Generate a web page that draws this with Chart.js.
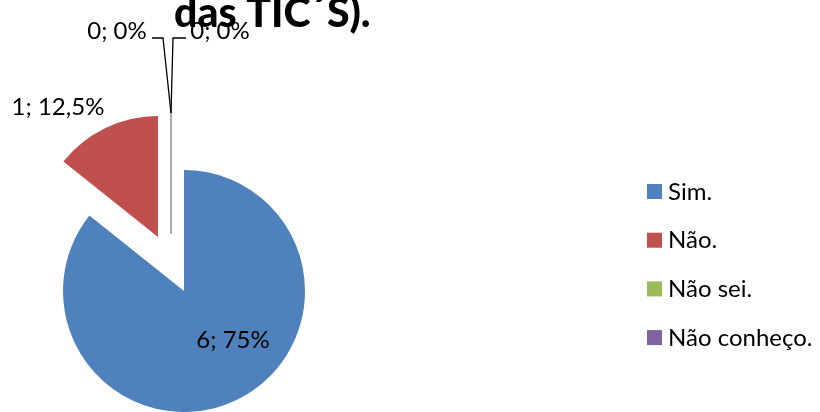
<!DOCTYPE html>
<html>
<head>
<meta charset="utf-8">
<script src="https://cdn.jsdelivr.net/npm/chart.js@4/dist/chart.umd.min.js"></script>
<style>
  html, body { margin: 0; padding: 0; background: #fff; }
  #wrap { position: relative; width: 820px; height: 412px; overflow: hidden; }
  canvas { display: block; }
</style>
</head>
<body>
<div id="wrap"><canvas id="pie" width="820" height="412"></canvas></div>
<script>
// Survey answers
const categories = ['Sim.', 'Não.', 'Não sei.', 'Não conheço.'];
const counts = [6, 1, 0, 0];
const percentLabels = ['75%', '12,5%', '0%', '0%'];
const sliceColors = ['#4F81BD', '#C0504D', '#9BBB59', '#8064A2'];
const titleLine = 'das TIC´S).';

const FONT = 'Lato, "Open Sans", sans-serif';
const EXPLODE = 30;      // distance each slice is pulled out from the centre
const PIE_RADIUS = 121;

// Where each data label sits, relative to the slice corner (or outer tip for empty slices)
const labelPlacement = [
  { from: 'corner', dx: 49, dy: 49 },
  { from: 'corner', dx: -100, dy: -130 },
  { from: 'tip', dx: -54, dy: -82, leader: [[-19, -75], [-8, -75]] },
  { from: 'tip', dx: 49, dy: -82, leader: [[15, -75], [2, -75]] }
];

// Pull every slice outward along its mid angle (exploded pie)
const explodePlugin = {
  id: 'explode',
  afterDatasetUpdate(chart, args) {
    args.meta.data.forEach(arc => {
      const mid = (arc.startAngle + arc.endAngle) / 2;
      arc.x += Math.cos(mid) * EXPLODE;
      arc.y += Math.sin(mid) * EXPLODE;
    });
  }
};

// Empty slices are drawn as a thin radial line; data labels and leader lines
const labelPlugin = {
  id: 'sliceLabels',
  afterDatasetsDraw(chart) {
    const ctx = chart.ctx;
    const arcs = chart.getDatasetMeta(0).data;
    ctx.save();
    arcs.forEach((arc, i) => {
      if (arc.circumference === 0) {
        ctx.strokeStyle = '#a6a6ae';
        ctx.lineWidth = 1.5;
        ctx.beginPath();
        ctx.moveTo(arc.x, arc.y);
        ctx.lineTo(arc.x + Math.cos(arc.startAngle) * arc.outerRadius,
                   arc.y + Math.sin(arc.startAngle) * arc.outerRadius);
        ctx.stroke();
      }
    });
    arcs.forEach((arc, i) => {
      const p = labelPlacement[i];
      let ax = arc.x, ay = arc.y;
      if (p.from === 'tip') {
        ax = arc.x + Math.cos(arc.startAngle) * arc.outerRadius;
        ay = arc.y + Math.sin(arc.startAngle) * arc.outerRadius;
      }
      if (p.leader) {
        ctx.strokeStyle = '#000';
        ctx.lineWidth = 1.3;
        ctx.beginPath();
        ctx.moveTo(ax + p.leader[0][0], ay + p.leader[0][1]);
        ctx.lineTo(ax + p.leader[1][0], ay + p.leader[1][1]);
        ctx.lineTo(ax, ay);
        ctx.stroke();
      }
      ctx.fillStyle = '#000';
      ctx.font = '24px ' + FONT;
      ctx.textAlign = 'center';
      ctx.textBaseline = 'middle';
      ctx.fillText(counts[i] + '; ' + percentLabels[i], ax + p.dx, ay + p.dy);
    });
    ctx.restore();
  },
  afterDraw(chart) {
    const ctx = chart.ctx;
    ctx.save();
    // title (continuation line)
    ctx.fillStyle = '#000';
    ctx.font = '900 41px ' + FONT;
    ctx.textAlign = 'left';
    ctx.textBaseline = 'alphabetic';
    ctx.fillText(titleLine, 174, 27);
    // legend
    ctx.font = '24px ' + FONT;
    ctx.textBaseline = 'alphabetic';
    categories.forEach((name, i) => {
      const top = 184 + i * 48.7;
      ctx.fillStyle = sliceColors[i];
      ctx.fillRect(647, top, 15, 15);
      ctx.fillStyle = '#000';
      ctx.fillText(name, 668, top + 15.5);
    });
    ctx.restore();
  }
};

new Chart(document.getElementById('pie'), {
  type: 'pie',
  data: {
    labels: categories,
    datasets: [{
      data: counts,
      backgroundColor: sliceColors,
      borderWidth: 0
    }]
  },
  options: {
    responsive: false,
    devicePixelRatio: 1,
    animation: false,
    radius: PIE_RADIUS,
    layout: { padding: { left: 0, right: 478, top: 116, bottom: 0 } },
    plugins: {
      legend: { display: false },
      title: { display: false },
      tooltip: { enabled: false }
    }
  },
  plugins: [explodePlugin, labelPlugin]
});
</script>
</body>
</html>
